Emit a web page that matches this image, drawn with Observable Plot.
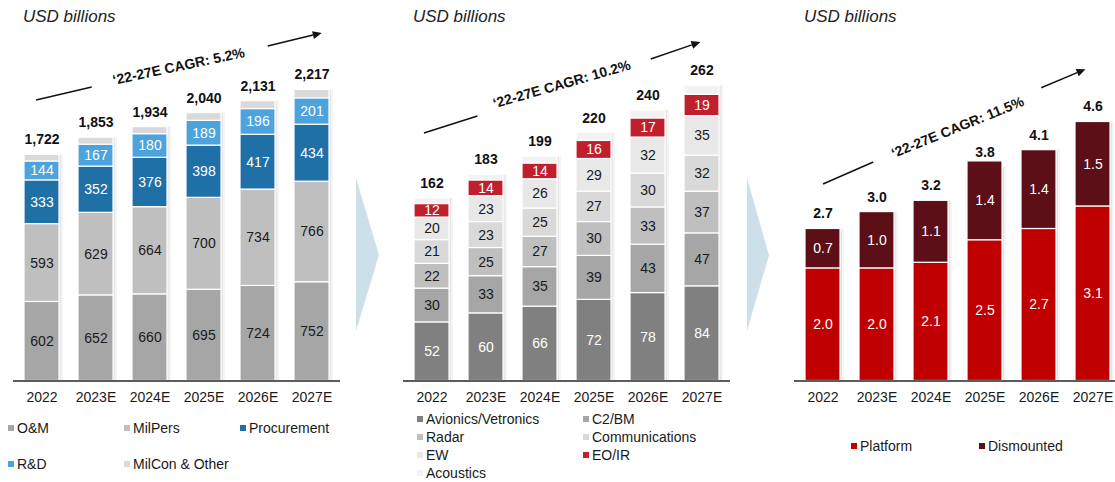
<!DOCTYPE html>
<html><head><meta charset="utf-8">
<script src="https://cdn.jsdelivr.net/npm/d3@7"></script>
<script src="https://cdn.jsdelivr.net/npm/@observablehq/plot@0.6"></script>
<style>
html,body{margin:0;padding:0;background:#fff;}
#root{position:relative;width:1115px;height:482px;overflow:hidden;font-family:"Liberation Sans",Arial,sans-serif;color:#1a1a1a;}
.panel{position:absolute;top:0;width:350px;height:400px;}
.panel svg{display:block;position:absolute;left:0;top:0;}
.title{position:absolute;top:8px;font-style:italic;font-size:17px;line-height:18px;color:#222;white-space:nowrap;}
.leg{position:absolute;font-size:14px;line-height:16px;white-space:nowrap;color:#1a1a1a;}
.leg i{position:absolute;left:0;top:5px;width:6px;height:6px;}
.leg span{position:absolute;left:9px;top:0;}
</style></head><body><div id="root"></div>
<script>
const FONT = '"Liberation Sans", Arial, sans-serif';
const years = ["2022","2023E","2024E","2025E","2026E","2027E"];

// Panel 1: DoD budget
const budgetSeries = ["O&M","MilPers","Procurement","R&D","MilCon & Other"];
const budgetOM = [602,652,660,695,724,752];
const budgetMilPers = [593,629,664,700,734,766];
const budgetProcurement = [333,352,376,398,417,434];
const budgetRD = [144,167,180,189,196,201];
const budgetMilCon = [50,53,54,58,60,64];
const budgetTotals = [1722,1853,1934,2040,2131,2217];
const budgetCAGR = "‘22-27E CAGR: 5.2%";

// Panel 2: defense electronics
const elecSeries = ["Avionics/Vetronics","C2/BM","Radar","Communications","EW","EO/IR","Acoustics"];
const elecAvionics = [52,60,66,72,78,84];
const elecC2BM = [30,33,35,39,43,47];
const elecRadar = [22,25,27,30,33,37];
const elecComms = [21,23,25,27,30,32];
const elecEW = [20,23,26,29,32,35];
const elecEOIR = [12,14,14,16,17,19];
const elecAcoustics = [5,5,6,7,7,8];
const elecTotals = [162,183,199,220,240,262];
const elecCAGR = "‘22-27E CAGR: 10.2%";

// Panel 3: platform vs dismounted
const soldierSeries = ["Platform","Dismounted"];
const soldierPlatform = [2.0,2.0,2.1,2.5,2.7,3.1];
const soldierDismounted = [0.7,1.0,1.1,1.4,1.4,1.5];
const soldierTotals = [2.7,3.0,3.2,3.8,4.1,4.6];
const soldierCAGR = "‘22-27E CAGR: 11.5%";

const DARK = "#1a1a1a", WHITE = "#ffffff";

const panels = [
  {
    left: 0, series: budgetSeries,
    values: [budgetOM, budgetMilPers, budgetProcurement, budgetRD, budgetMilCon],
    colors: ["#a6a6a6","#bfbfbf","#2070a8","#4da3dc","#d9d9d9"],
    textColors: [DARK, DARK, WHITE, WHITE, null],
    totals: budgetTotals, fmt: d3.format("d"), totalFmt: d3.format(","),
    ymax: 2898, cagr: budgetCAGR,
    ann: {line: [[-0.10, 2136], [0.93, 2235]], arrow: [[4.19, 2548], [5.19, 2647]], text: [2.54, 2395], rotate: -12},
    legend: {cols: [8, 124, 240], y0: 428, dy: 36}
  },
  {
    left: 390, series: elecSeries,
    values: [elecAvionics, elecC2BM, elecRadar, elecComms, elecEW, elecEOIR, elecAcoustics],
    colors: ["#808080","#a6a6a6","#bfbfbf","#d9d9d9","#e8e8e8","#c0202e","#f2f2f2"],
    textColors: [WHITE, DARK, DARK, DARK, DARK, WHITE, null],
    totals: elecTotals, fmt: d3.format("d"), totalFmt: d3.format("d"),
    ymax: 337.6, cagr: elecCAGR,
    ann: {line: [[-0.14, 219.6], [0.85, 234.7]], arrow: [[4.06, 285.3], [4.98, 300.4]], text: [2.41, 263.1], rotate: -16},
    legend: {cols: [417, 583], y0: 418.5, dy: 18.2}
  },
  {
    left: 781, series: soldierSeries,
    values: [soldierPlatform, soldierDismounted],
    colors: ["#c00000","#5c0f16"],
    textColors: [WHITE, WHITE],
    totals: soldierTotals, fmt: d => d.toFixed(1), totalFmt: d => d.toFixed(1),
    ymax: 6.758, cagr: soldierCAGR,
    ann: {line: [[0.01, 3.49], [0.94, 3.88]], arrow: [[4.05, 5.20], [4.87, 5.53]], text: [2.50, 4.50], rotate: -22},
    legend: {cols: [851, 979], y0: 446, dy: 18}
  }
];

const chevrons = [
  [[356,178],[379,255],[356,331]],
  [[747,178],[769,255],[747,331]]
];

const root = document.getElementById("root");

// background chevrons
const bg = d3.select(root).append("svg")
  .attr("width", 1115).attr("height", 482)
  .style("position","absolute").style("left","0").style("top","0");
bg.selectAll("polygon").data(chevrons).join("polygon")
  .attr("points", d => d.map(p => p.join(",")).join(" "))
  .attr("fill", "#cde0ea");

panels.forEach(p => {
  const data = [];
  p.series.forEach((s, si) => {
    years.forEach((y, yi) => {
      data.push({year: y, series: s, value: p.values[si][yi], fill: p.colors[si], textFill: p.textColors[si] || DARK, labeled: !!p.textColors[si]});
    });
  });
  const totalsData = years.map((y, i) => ({year: y, total: p.totals[i]}));

  const plot = Plot.plot({
    width: 350, height: 400,
    marginLeft: 13, marginRight: 10, marginTop: 0, marginBottom: 19.5,
    style: {fontFamily: FONT, fontSize: "14px", color: DARK, background: "transparent", overflow: "visible"},
    x: {domain: years, paddingInner: 0.357, paddingOuter: 0.183, tickSize: 0, tickPadding: 11, label: null},
    y: {domain: [0, p.ymax], axis: null},
    color: {type: "identity"},
    marks: [
      Plot.barY(totalsData, {x: "year", y: "total", fill: "#000", fillOpacity: 0.04, dx: 4}),
      Plot.barY(totalsData, {x: "year", y: "total", fill: "#000", fillOpacity: 0.06, dx: 2}),
      Plot.barY(data, {x: "year", y: "value", fill: "fill", stroke: "white", strokeWidth: 1.2}),
      Plot.text(data, Plot.stackY({x: "year", y: "value", text: d => d.labeled ? p.fmt(d.value) : "", fill: "textFill", fontSize: 14})),
      Plot.ruleY([0], {stroke: "#262626", strokeWidth: 1.6}),
      Plot.text(totalsData, {x: "year", y: "total", text: d => p.totalFmt(d.total), dy: -15, fontWeight: "bold", fontSize: 14, fill: "#111"})
    ]
  });

  const wrap = document.createElement("div");
  wrap.className = "panel";
  wrap.style.left = p.left + "px";
  wrap.appendChild(plot);
  root.appendChild(wrap);

  // annotations (CAGR)
  const xs = plot.scale("x"), ys = plot.scale("y");
  const step = xs.apply(years[1]) - xs.apply(years[0]);
  const px = i => xs.apply(years[0]) + xs.bandwidth / 2 + i * step;
  const py = v => ys.apply(v);
  const svg = d3.select(plot.tagName.toLowerCase() === "svg" ? plot : plot.querySelector("svg"));
  const g = svg.append("g");
  const [l1, l2] = p.ann.line;
  g.append("line").attr("x1", px(l1[0])).attr("y1", py(l1[1])).attr("x2", px(l2[0])).attr("y2", py(l2[1]))
    .attr("stroke", "#111").attr("stroke-width", 1.5);
  const [a1, a2] = p.ann.arrow;
  const ax1 = px(a1[0]), ay1 = py(a1[1]), ax2 = px(a2[0]), ay2 = py(a2[1]);
  const ang = Math.atan2(ay2 - ay1, ax2 - ax1);
  const hl = 9, hw = 4;
  const bx = ax2 - hl * Math.cos(ang), by = ay2 - hl * Math.sin(ang);
  g.append("line").attr("x1", ax1).attr("y1", ay1).attr("x2", bx).attr("y2", by)
    .attr("stroke", "#111").attr("stroke-width", 1.5);
  g.append("polygon").attr("points", [
    [ax2, ay2],
    [bx + hw * Math.sin(ang), by - hw * Math.cos(ang)],
    [bx - hw * Math.sin(ang), by + hw * Math.cos(ang)]
  ].map(q => q.join(",")).join(" ")).attr("fill", "#111");
  const tx = px(p.ann.text[0]), ty = py(p.ann.text[1]);
  g.append("text").attr("transform", `translate(${tx},${ty}) rotate(${p.ann.rotate})`)
    .attr("text-anchor", "middle").attr("dy", "0.35em")
    .attr("font-weight", "bold").attr("font-size", 14).attr("fill", "#111")
    .text(p.cagr);

  // title
  const t = document.createElement("div");
  t.className = "title";
  t.style.left = (p.left + 23) + "px";
  t.textContent = "USD billions";
  root.appendChild(t);

  // legend
  const nc = p.legend.cols.length;
  p.series.forEach((s, i) => {
    const col = i % nc, row = Math.floor(i / nc);
    const item = document.createElement("div");
    item.className = "leg";
    item.style.left = p.legend.cols[col] + "px";
    item.style.top = (p.legend.y0 + row * p.legend.dy - 8) + "px";
    const sw = document.createElement("i");
    sw.style.background = p.colors[i];
    const sp = document.createElement("span");
    sp.textContent = s;
    item.appendChild(sw); item.appendChild(sp);
    root.appendChild(item);
  });
});
</script></body></html>
